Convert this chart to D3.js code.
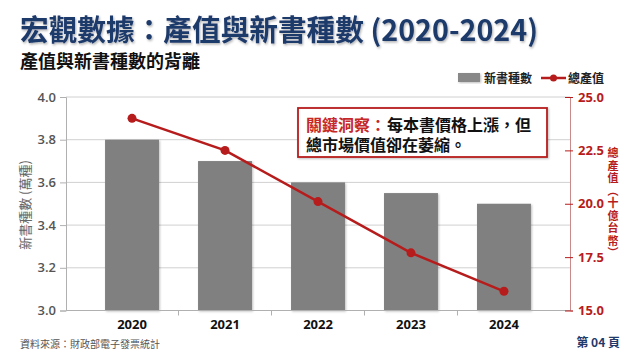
<!DOCTYPE html>
<html><head><meta charset="utf-8">
<script src="https://cdn.jsdelivr.net/npm/d3@7"></script>
<style>
html,body{margin:0;padding:0;background:#fff;}
svg{display:block;font-family:"Noto Sans CJK TC","Noto Sans",sans-serif;}
</style></head>
<body><svg id="c" width="640" height="357"></svg>
<script>
const years = ["2020","2021","2022","2023","2024"];
const bookCounts = [3.8, 3.7, 3.6, 3.55, 3.5];      // 萬種
const outputValue = [24.0, 22.5, 20.1, 17.7, 15.9]; // 十億台幣
const leftTicks = [3.0, 3.2, 3.4, 3.6, 3.8, 4.0];
const rightTicks = [15.0, 17.5, 20.0, 22.5, 25.0];

const svg = d3.select("#c");
const L = 66, R = 570, T = 97, B = 310.5;
const red = "#b71c1c";

const x = d3.scaleBand().domain(years).range([L, R]).padding(0.42);
const yL = d3.scaleLinear().domain([3, 4]).range([B, T]);
const yR = d3.scaleLinear().domain([15, 25]).range([B, T]);

const defs = svg.append("defs");
const sh = defs.append("filter").attr("id","sh").attr("x","-10%").attr("y","-10%").attr("width","130%").attr("height","130%");
sh.append("feDropShadow").attr("dx",1).attr("dy",1).attr("stdDeviation",1).attr("flood-color","#000").attr("flood-opacity",0.25);
const tsh = defs.append("filter").attr("id","tsh");
tsh.append("feDropShadow").attr("dx",1).attr("dy",1.5).attr("stdDeviation",1).attr("flood-color","#000").attr("flood-opacity",0.3);

// Title
svg.append("text").attr("x",20).attr("y",41).attr("font-size",29).attr("font-weight",700)
  .attr("fill","#1f3a6b").attr("filter","url(#tsh)").attr("textLength",518).attr("lengthAdjust","spacingAndGlyphs")
  .text("宏觀數據：產值與新書種數 (2020-2024)");
svg.append("text").attr("x",20).attr("y",68).attr("font-size",18).attr("font-weight",700)
  .attr("fill","#111").text("產值與新書種數的背離");

// Gridlines
svg.append("g").selectAll("line").data(leftTicks.slice(1)).join("line")
  .attr("x1",L).attr("x2",R).attr("y1",d=>yL(d)).attr("y2",d=>yL(d))
  .attr("stroke","#d0d0d0").attr("stroke-width",1);

// Bars
svg.append("g").selectAll("rect").data(years).join("rect")
  .attr("x",d=>x(d)).attr("width",x.bandwidth())
  .attr("y",(d,i)=>yL(bookCounts[i])).attr("height",(d,i)=>B - yL(bookCounts[i]))
  .attr("fill","#808080").attr("filter","url(#sh)");

// Left axis
const gl = svg.append("g").attr("transform",`translate(${L},0)`)
  .call(d3.axisLeft(yL).tickValues(leftTicks).tickFormat(d3.format(".1f")).tickSize(6).tickPadding(4));
gl.select(".domain").attr("stroke","#b0b0b0");
gl.selectAll(".tick line").attr("stroke","#b0b0b0");
gl.selectAll("text").attr("font-size",13).attr("font-weight",600).attr("fill","#555")
  .attr("font-family","'Open Sans','Noto Sans',sans-serif");

// Bottom axis
const gb = svg.append("g").attr("transform",`translate(0,${B})`);
gb.append("line").attr("x1",L).attr("x2",R).attr("stroke","#b0b0b0");
const bounds = years.slice(1).map(d => x(d) - x.step()*x.paddingInner()/2);
gb.selectAll(".bt").data(bounds).join("line").attr("class","bt")
  .attr("x1",d=>d).attr("x2",d=>d).attr("y1",0).attr("y2",5).attr("stroke","#b0b0b0");
gb.selectAll("text").data(years).join("text")
  .attr("x",d=>x(d)+x.bandwidth()/2).attr("y",18).attr("text-anchor","middle")
  .attr("font-size",13).attr("font-weight",700).attr("fill","#111")
  .attr("font-family","'Open Sans','Noto Sans',sans-serif").text(d=>d);

// Right axis
const gr = svg.append("g").attr("transform",`translate(${R},0)`)
  .call(d3.axisRight(yR).tickValues(rightTicks).tickFormat(d3.format(".1f")).tickSize(3).tickPadding(5));
gr.select(".domain").attr("stroke","#c98a8a");
gr.selectAll(".tick line").attr("x1",-5).attr("stroke",red);
gr.selectAll("text").attr("font-size",13).attr("font-weight",700).attr("fill",red)
  .attr("font-family","'Open Sans','Noto Sans',sans-serif");

// Axis titles
svg.append("text").attr("transform",`translate(30,205) rotate(-90)`).attr("text-anchor","middle")
  .attr("font-size",13).attr("fill","#666").text("新書種數 (萬種)");
const rTitle = ["總","產","值","︵","十","億","台","幣","︶"];
svg.append("g").selectAll("text").data(rTitle).join("text")
  .attr("x",613).attr("y",(d,i)=>157 + i*12.5).attr("text-anchor","middle")
  .attr("font-size",11).attr("font-weight",700).attr("fill",red).text(d=>d);

// Line
const line = d3.line().x((d,i)=>x(years[i])+x.bandwidth()/2).y(d=>yR(d));
svg.append("path").datum(outputValue).attr("d",line).attr("fill","none")
  .attr("stroke",red).attr("stroke-width",2.5);
svg.append("g").selectAll("circle").data(outputValue).join("circle")
  .attr("cx",(d,i)=>x(years[i])+x.bandwidth()/2).attr("cy",d=>yR(d)).attr("r",4.5).attr("fill",red);

// Legend
svg.append("rect").attr("x",458).attr("y",73).attr("width",22).attr("height",9).attr("fill","#888").attr("filter","url(#sh)");
svg.append("text").attr("x",484).attr("y",83).attr("font-size",12).attr("font-weight",700).attr("fill","#222").text("新書種數");
svg.append("line").attr("x1",541).attr("x2",566).attr("y1",78).attr("y2",78).attr("stroke",red).attr("stroke-width",2.5);
svg.append("circle").attr("cx",553.5).attr("cy",78).attr("r",3.5).attr("fill",red);
svg.append("text").attr("x",568).attr("y",83).attr("font-size",12).attr("font-weight",700).attr("fill","#222").text("總產值");

// Annotation
svg.append("rect").attr("x",298).attr("y",108).attr("width",249).attr("height",49)
  .attr("fill","#fff").attr("stroke",red).attr("stroke-width",1.8).attr("filter","url(#sh)");
const a1 = svg.append("text").attr("x",306).attr("y",131).attr("font-size",16).attr("font-weight",700)
  .attr("fill","#c62828").text("關鍵洞察：");
const w1 = a1.node().getBBox().width;
svg.append("text").attr("x",306 + w1 + 1).attr("y",131).attr("font-size",16).attr("font-weight",700)
  .attr("fill","#111").text("每本書價格上漲，但");
svg.append("text").attr("x",306).attr("y",151).attr("font-size",16).attr("font-weight",700)
  .attr("fill","#111").text("總市場價值卻在萎縮。");

// Footer
svg.append("text").attr("x",20).attr("y",348).attr("font-size",10).attr("fill","#555").text("資料來源：財政部電子發票統計");
svg.append("text").attr("x",620).attr("y",347).attr("text-anchor","end").attr("font-size",12).attr("font-weight",700)
  .attr("fill","#1f3a6b").text("第 04 頁");
</script></body></html>
